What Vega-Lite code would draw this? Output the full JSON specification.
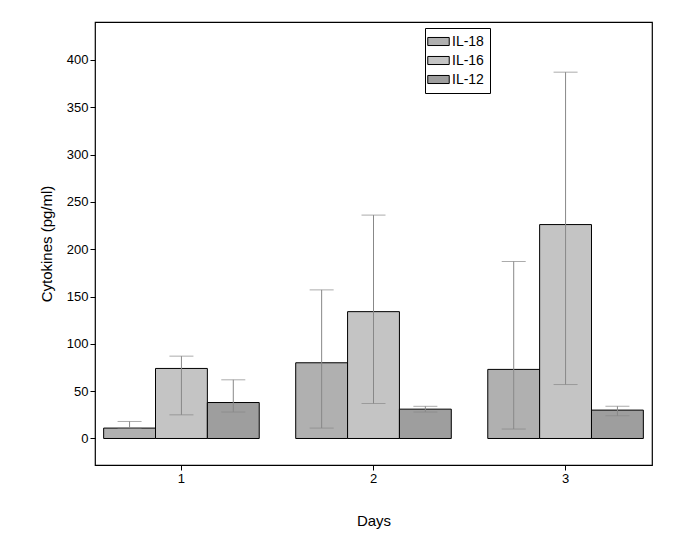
{
  "$schema": "https://vega.github.io/schema/vega-lite/v6.json",
  "width": 557,
  "height": 443,
  "autosize": "none",
  "padding": {"left": 95, "top": 22, "right": 36, "bottom": 80},
  "background": "white",
  "config": {
    "font": "Liberation Sans",
    "view": {"stroke": "black", "strokeWidth": 1.2},
    "axis": {"labelFontSize": 13, "titleFontSize": 15, "titleFontWeight": "normal", "domainColor": "black", "tickColor": "black", "labelColor": "black", "grid": false}
  },
  "data": {"values": [
    {"day": "1", "cytokine": "IL-18", "mean": 11, "lo": 11, "hi": 18},
    {"day": "1", "cytokine": "IL-16", "mean": 74, "lo": 25, "hi": 87},
    {"day": "1", "cytokine": "IL-12", "mean": 38, "lo": 28, "hi": 62},
    {"day": "2", "cytokine": "IL-18", "mean": 80, "lo": 11, "hi": 157},
    {"day": "2", "cytokine": "IL-16", "mean": 134, "lo": 37, "hi": 236},
    {"day": "2", "cytokine": "IL-12", "mean": 31, "lo": 28, "hi": 34},
    {"day": "3", "cytokine": "IL-18", "mean": 73, "lo": 10, "hi": 187},
    {"day": "3", "cytokine": "IL-16", "mean": 226, "lo": 57, "hi": 387},
    {"day": "3", "cytokine": "IL-12", "mean": 30, "lo": 24, "hi": 34}
  ]},
  "encoding": {
    "x": {"field": "day", "type": "ordinal", "title": "Days",
      "scale": {"paddingInner": 0.19, "paddingOuter": 0.045},
      "axis": {"labelAngle": 0, "titlePadding": 28, "domain": false, "tickSize": 5}},
    "xOffset": {"field": "cytokine", "type": "nominal", "sort": ["IL-18", "IL-16", "IL-12"], "scale": {"paddingInner": 0}}
  },
  "layer": [
    {
      "mark": {"type": "bar", "stroke": "black", "strokeWidth": 1},
      "encoding": {
        "y": {"field": "mean", "type": "quantitative", "title": "Cytokines (pg/ml)",
          "scale": {"domain": [-28, 440], "nice": false, "zero": false},
          "axis": {"values": [0, 50, 100, 150, 200, 250, 300, 350, 400], "domain": false, "titlePadding": 12}},
        "fill": {"field": "cytokine", "type": "nominal", "sort": ["IL-18", "IL-16", "IL-12"],
          "scale": {"range": ["#b0b0b0", "#c4c4c4", "#9e9e9e"]},
          "legend": {"title": null, "orient": "none", "legendX": 330, "legendY": 6,
            "strokeColor": "black", "padding": 6, "labelFontSize": 14, "labelOffset": 6,
            "symbolType": "M-1.6,-0.6H1.6V0.6H-1.6Z", "symbolSize": 180, "symbolStrokeColor": "black", "symbolStrokeWidth": 1, "rowPadding": 4, "labelColor": "black"}}
      }
    },
    {
      "mark": {"type": "rule", "color": "#888"},
      "encoding": {"y": {"field": "lo", "type": "quantitative"}, "y2": {"field": "hi"}}
    },
    {
      "mark": {"type": "tick", "color": "#888", "size": 24, "thickness": 1},
      "encoding": {"y": {"field": "hi", "type": "quantitative"}}
    },
    {
      "mark": {"type": "tick", "color": "#888", "size": 24, "thickness": 1},
      "encoding": {"y": {"field": "lo", "type": "quantitative"}}
    }
  ]
}
